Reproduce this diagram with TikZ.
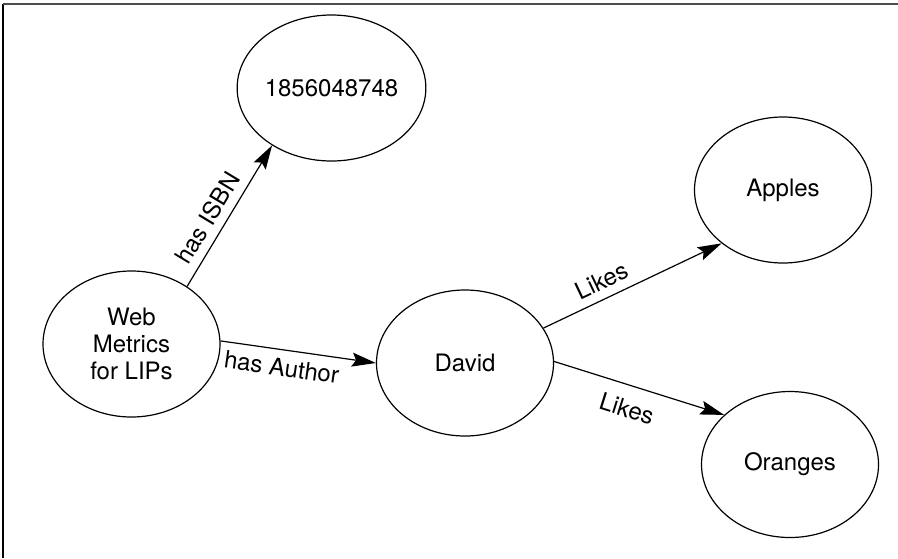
\documentclass[tikz,border=0pt]{standalone}
\usepackage{fontspec}
\setmainfont{TeX Gyre Heros}
\usetikzlibrary{shapes.geometric,arrows.meta}

\begin{document}
\begin{tikzpicture}[x=0.5pt, y=-0.5pt, font=\fontsize{12}{13.5}\selectfont]
    % 定义样式
    \tikzstyle{res node}=[ellipse, draw, line width=0.6pt, minimum width=88.5pt, minimum height=73pt, inner sep=0pt, align=center]
    \tikzstyle{rel edge}=[line width=0.6pt, -{Stealth[length=12pt, width=7pt, inset=2pt]}]
    \tikzstyle{rel label}=[sloped, inner sep=4pt]

    \useasboundingbox (0,0) rectangle (898,558);
    % 边框 (左和上)
    \draw[line width=0.8pt] (3,558) -- (3,3.5);
    \draw[line width=1pt, black!70] (2.5,3.5) -- (898,3.5);

    % 资源节点
    \node[res node] (isbn) at (331.5,88) {1856048748};
    \node[res node] (book) at (131.5,344) {Web\\Metrics\\for LIPs};
    \node[res node] (david) at (465,363) {David};
    \node[res node] (apples) at (783,190) {Apples};
    \node[res node] (oranges) at (790,464.5) {Oranges};

    % 关系
    \draw[rel edge] (book.46) -- (isbn.224)
        node[rel label, above, pos=0.42] {has ISBN};
    \draw[rel edge] (book.2) -- (david.180)
        node[rel label, below, pos=0.41] {has Author};
    \draw[rel edge] (david.24) -- (apples.221)
        node[rel label, above, pos=0.37] {Likes};
    \draw[rel edge] (david.1) -- (oranges.143)
        node[rel label, below=3pt, pos=0.47] {Likes};
\end{tikzpicture}
\end{document}
